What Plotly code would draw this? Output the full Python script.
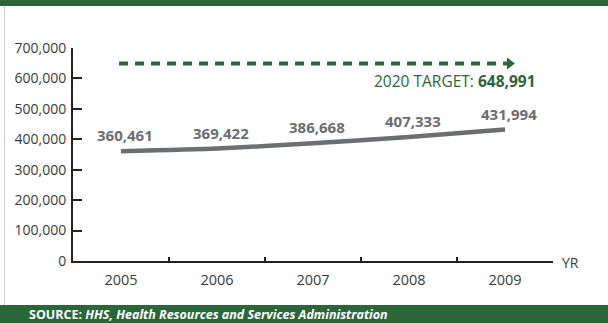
import plotly.graph_objects as go

# Workforce counts by year
years = ["2005", "2006", "2007", "2008", "2009"]
workers = [360461, 369422, 386668, 407333, 431994]
target_value = 648991
target_year = "2020"
y_ticks = [0, 100000, 200000, 300000, 400000, 500000, 600000, 700000]
source_org = "HHS, Health Resources and Services Administration"

GREEN = "#2b6638"
GREY_LINE = "#6d6e71"
AXIS = "#222222"
TEXT = "#3a3a3a"
FONT = "Open Sans"

W, H = 608, 323
L, R, T, B = 73, 55, 48, 62
PW, PH = W - L - R, H - T - B


def px(x):
    """pixel x -> paper x"""
    return (x - L) / PW


def py(y):
    """pixel y (from top) -> paper y"""
    return (H - B - y) / PH


fig = go.Figure()

fig.add_trace(go.Scatter(
    x=years, y=workers, mode="lines",
    line=dict(color=GREY_LINE, width=4.5, shape="spline", smoothing=0.6),
    hoverinfo="skip", showlegend=False,
))

annotations = []
# category axis: annotations are positioned by category index
for i, v in enumerate(workers):
    annotations.append(dict(
        x=i, y=v, xref="x", yref="y", text=f"<b>{v:,}</b>",
        showarrow=False, yshift=16, xshift=4, yanchor="middle",
        font=dict(family=FONT, size=15, color=GREY_LINE),
    ))

# target label
annotations.append(dict(
    x=px(538), xref="paper", xanchor="right",
    y=target_value, yref="y", yanchor="middle", yshift=-17.5,
    text=f"{target_year} TARGET: <b>{target_value:,}</b>",
    showarrow=False, font=dict(family=FONT, size=15.5, color=GREEN),
))

# axis unit label
annotations.append(dict(
    x=px(560), xref="paper", xanchor="left",
    y=0, yref="y", yanchor="middle", yshift=-1,
    text="YR", showarrow=False,
    font=dict(family=FONT, size=14, color=TEXT),
))

# source line in footer band
annotations.append(dict(
    x=px(27), xref="paper", xanchor="left",
    y=py(314.5), yref="paper", yanchor="middle",
    text=f"<b>SOURCE:</b> <b><i>{source_org}</i></b>",
    showarrow=False, font=dict(family=FONT, size=12.5, color="white"),
))

shapes = [
    # header band
    dict(type="rect", xref="paper", yref="paper", x0=px(0), x1=px(W),
         y0=py(6), y1=py(0), fillcolor=GREEN, line=dict(width=0), layer="below"),
    # footer band
    dict(type="rect", xref="paper", yref="paper", x0=px(0), x1=px(W),
         y0=py(H), y1=py(305), fillcolor=GREEN, line=dict(width=0), layer="below"),
    # left frame rule
    dict(type="line", xref="paper", yref="paper", x0=px(4.5), x1=px(4.5),
         y0=py(305), y1=py(6), line=dict(color="#cccccc", width=1)),
    # dashed target projection
    dict(type="line", xref="x", yref="y", x0=-0.02, x1=4.02,
         y0=target_value, y1=target_value,
         line=dict(color=GREEN, width=4, dash="9px,7px")),
    # arrow head
    dict(type="path", xref="x", yref="y", xsizemode="pixel", ysizemode="pixel",
         xanchor=4.02, yanchor=target_value,
         path="M0,-6 L8,0 L0,6 Z", fillcolor=GREEN, line=dict(width=0)),
]

fig.update_layout(
    width=W, height=H,
    margin=dict(l=L, r=R, t=T, b=B),
    paper_bgcolor="white", plot_bgcolor="white",
    font=dict(family=FONT, size=14, color=TEXT),
    showlegend=False,
    annotations=annotations,
    shapes=shapes,
    xaxis=dict(
        type="category", categoryorder="array", categoryarray=years,
        range=[-0.5, 4.5], tickson="boundaries",
        ticks="inside", ticklen=4, tickwidth=1.5, tickcolor=AXIS,
        showline=True, linecolor=AXIS, linewidth=2,
        showgrid=False, zeroline=False,
        tickfont=dict(family=FONT, size=14.5, color=TEXT),
        ticklabelstandoff=5,
        fixedrange=True,
    ),
    yaxis=dict(
        range=[0, 700000], tickvals=y_ticks,
        ticktext=[f"{v:,}" for v in y_ticks],
        ticks="inside", ticklen=9, tickwidth=2, tickcolor=AXIS,
        showline=True, linecolor=AXIS, linewidth=2,
        showgrid=False, zeroline=False,
        tickfont=dict(family=FONT, size=14, color=TEXT),
        ticklabelstandoff=2,
        fixedrange=True,
    ),
)

fig.write_html("out.html", config={"displayModeBar": False})
